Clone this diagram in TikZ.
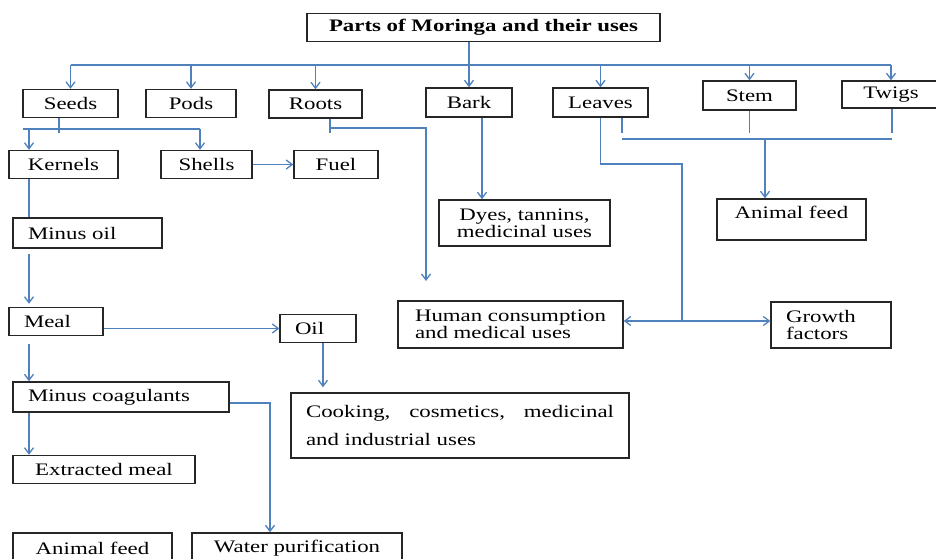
\documentclass[tikz,border=0pt]{standalone}
\usepackage{fontspec}
\setmainfont[FakeStretch=1.3]{Liberation Serif}
\usepackage{xcolor}
\usetikzlibrary{arrows.meta,calc}
\definecolor{linkblue}{RGB}{79,129,189}
\tikzset{
box/.style={
draw=black!85,
line width=0.8pt,
minimum height=5.6mm,
align=center,
inner sep=2pt,
font=\fontsize{10}{9.8}\selectfont
},
lbox/.style={
box,
align=left,
inner xsep=8.5pt
},
link/.style={
draw=linkblue,
line width=0.75pt
},
arrow/.style={
link,
-{Straight Barb[length=1.2mm,width=1.8mm]}
},
stub/.style={
link,
shorten >=1.2mm
}
}

\begin{document}
\begin{tikzpicture}[x=0.02cm,y=-0.02cm]
\useasboundingbox (0,0) rectangle (936,558);
\node[box,minimum width=70.6mm,font=\bfseries\fontsize{10}{10}\selectfont] (title) at (483.5,27.5) {Parts of Moringa and their uses};

\node[box,minimum width=19mm] (seeds) at (70.5,103.5) {Seeds};
\node[box,minimum width=18mm] (pods) at (191,103.5) {Pods};
\node[box,minimum width=18.6mm] (roots) at (315.5,104) {Roots};
\node[box,minimum width=17.2mm,minimum height=5.8mm] (bark) at (469,102.5) {Bark};
\node[box,minimum width=19mm,minimum height=5.8mm] (leaves) at (600.5,102.5) {Leaves};
\node[box,minimum width=18.6mm,minimum height=5.8mm] (stem) at (749.5,95.5) {Stem};
\node[box,minimum width=19.6mm,minimum height=5.4mm] (twigs) at (891,94.5) {Twigs};

\node[box,minimum width=21.8mm] (kernels) at (63.5,164.5) {Kernels};
\node[box,minimum width=18.2mm] (shells) at (206.5,164.5) {Shells};
\node[box,minimum width=16.8mm] (fuel) at (336,164.5) {Fuel};
\node[lbox,text width=23.8mm,minimum height=6mm] (minusoil) at (87.5,233) {Minus oil};
\node[lbox,text width=12.8mm] (meal) at (56,321.5) {Meal};
\node[lbox,text width=9.2mm] (oil) at (318,328.5) {Oil};
\node[lbox,text width=37.2mm,minimum height=6mm] (coag) at (121,397) {Minus coagulants};
\node[box,minimum width=36.4mm] (extracted) at (104,469.5) {Extracted meal};
\node[box,minimum width=31.8mm,minimum height=6mm] (feedB) at (92.5,548) {Animal feed};
\node[box,minimum width=42mm,minimum height=6mm] (water) at (297,548) {Water purification};
\node[lbox,text width=61.6mm,minimum height=13mm,align=justify,font=\fontsize{10}{15.5}\selectfont] (cooking) at (460,425.5) {Cooking, cosmetics, medicinal\linebreak and industrial uses};

\node[box,minimum width=34.2mm,minimum height=9.2mm] (dyes) at (524.5,223) {Dyes, tannins,\\medicinal uses};
\node[box,minimum width=29.8mm,minimum height=8.2mm,text depth=3mm] (feedR) at (791.5,219.5) {Animal feed};
\node[box,minimum width=45mm,minimum height=9.4mm,align=left] (human) at (510.5,324.5) {Human consumption\\and medical uses};
\node[lbox,text width=18mm,minimum height=9.2mm] (growth) at (831,325) {Growth\\factors};

\coordinate (bus) at (469,65);
\draw[link] (title.south -| bus) -- (bus);
\draw[link] (bus -| seeds) -- (bus -| twigs);
\foreach \n in {seeds,pods,roots,bark,leaves,stem,twigs}
\draw[arrow] (bus -| \n) -- (\n.north);

\coordinate (sj) at (59,133);
\coordinate (sl) at (23,129);
\coordinate (sk) at (29,129);
\coordinate (ss) at (200,129);
\draw[link] (seeds.south -| sj) -- (sj);
\draw[link] (sl) -- (ss);
\draw[arrow] (sk) -- (sk |- kernels.north);
\draw[arrow] (ss) -- (ss |- shells.north);
\draw[arrow] (shells) -- (fuel);

\draw[link] (kernels.south -| sk) -- (minusoil.north -| sk);
\draw[arrow,shorten <=1mm,shorten >=0.6mm] (minusoil.south -| sk) -- (meal.north -| sk);
\draw[arrow] (meal.east |- oil) -- (oil.west);
\coordinate (oc) at (323,0);
\draw[arrow,shorten >=1mm] (oil.south -| oc) -- (cooking.north -| oc);
\draw[arrow,shorten <=1.6mm] (meal.south -| sk) -- (coag.north -| sk);
\draw[arrow] (coag.south -| sk) -- (extracted.north -| sk);
\coordinate (wj) at (270,403);
\draw[arrow] (coag.east |- wj) -- (wj) -- (wj |- water.north);

\coordinate (rj) at (330,133);
\coordinate (rk) at (426,128);
\coordinate (re) at (426,281);
\draw[link] (roots.south -| rj) -- (rj);
\draw[arrow] (rj |- rk) -- (rk) -- (re);

\coordinate (bx) at (482,0);
\draw[arrow] (bark.south -| bx) -- (dyes.north -| bx);

\coordinate (lj) at (682,164);
\coordinate (lh) at (682,321);
\draw[link] (leaves.south) -- (leaves.south |- lj) -- (lj) -- (lh);
\draw[arrow] (lh) -- (human.east |- lh);
\draw[arrow] (lh) -- (growth.west |- lh);

\coordinate (fl) at (622,139);
\coordinate (fr) at (892,139);
\coordinate (fj) at (765,139);
\draw[stub] (leaves.south -| fl) -- (fl);
\draw[stub] (stem.south) -- (stem.south |- fl);
\draw[stub] (twigs.south -| fr) -- (fr);
\draw[link] (fl) -- (fr);
\draw[arrow] (fj) -- (fj |- feedR.north);
\end{tikzpicture}
\end{document}
